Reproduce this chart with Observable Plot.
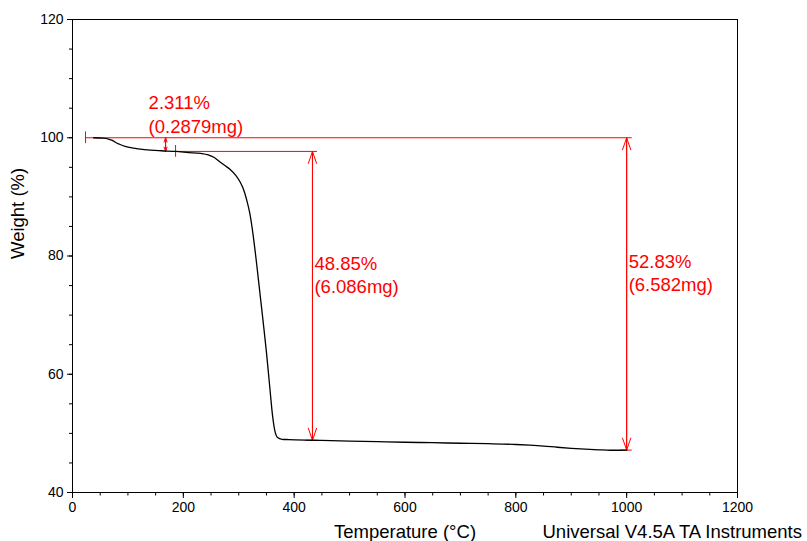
<!DOCTYPE html>
<html><head><meta charset="utf-8">
<script src="https://cdn.jsdelivr.net/npm/d3@7"></script>
<script src="https://cdn.jsdelivr.net/npm/@observablehq/plot@0.6"></script>
<style>html,body{margin:0;padding:0;background:#fff;overflow:hidden}</style>
</head><body><div id="chart"></div>
<script>
// TGA curve
const temperature = [38, 55, 65, 72, 78, 85, 95, 110, 130, 160, 186, 210, 231, 245, 255, 265, 275, 285, 295, 302, 308, 314, 320, 326, 332, 338, 344, 350, 356, 361, 365, 370, 378, 390, 433, 450, 500, 550, 600, 650, 700, 750, 800, 825, 850, 875, 900, 925, 950, 970, 985, 1000];
const weight      = [100.0, 99.93, 99.78, 99.55, 99.2, 98.9, 98.55, 98.25, 98.0, 97.8, 97.69, 97.5, 97.35, 97.1, 96.7, 96.0, 95.3, 94.6, 93.6, 92.6, 91.4, 89.6, 87.2, 83.5, 78.9, 73.9, 68.9, 63.7, 57.8, 53.0, 50.5, 49.3, 49.0, 48.95, 48.84, 48.8, 48.7, 48.6, 48.5, 48.42, 48.33, 48.25, 48.12, 48.0, 47.85, 47.65, 47.48, 47.33, 47.22, 47.15, 47.15, 47.17];

const xTicks = [0, 200, 400, 600, 800, 1000, 1200];
const yTicks = [40, 60, 80, 100, 120];

// step annotations (arrows)
const stepX      = [168, 433, 1000];
const stepTop    = [100, 97.689, 100];
const stepBottom = [97.689, 48.839, 47.170];
const stepLabels = ["2.311%\n(0.2879mg)", "48.85%\n(6.086mg)", "52.83%\n(6.582mg)"];

// horizontal reference lines
const refLevel = [100, 97.689, 48.839, 47.170];
const refStart = [23.5, 186, 421, 989];
const refEnd   = [1010, 442, 445, 1010];

const xLabel = "Temperature (°C)";
const yLabel = "Weight (%)";
const footer = "Universal V4.5A TA Instruments";

const curve = temperature.map((t, i) => ({t, w: weight[i]}));
const steps = stepX.map((x, i) => ({x, top: stepTop[i], bottom: stepBottom[i], label: stepLabels[i], mid: (stepTop[i] + stepBottom[i]) / 2}));
const refs = refLevel.map((y, i) => ({y, x1: refStart[i], x2: refEnd[i]}));
const caps = refs.slice(0, 2).map(d => ({x: d.x1, y1: d.y - 1, y2: d.y + 1}));

const RED = "#ff0000";
const FONT = "'Liberation Sans', Arial, sans-serif";
const fmt = d => String(d);

const chart = Plot.plot({
  width: 807,
  height: 541,
  marginLeft: 72,
  marginRight: 70,
  marginTop: 19,
  marginBottom: 49,
  style: {fontFamily: FONT, fontSize: "14px", color: "#000", background: "#fff"},
  x: {domain: [0, 1200]},
  y: {domain: [40, 120]},
  marks: [
    Plot.axisY({ticks: d3.range(40, 121, 5), tickSize: 3, text: null, label: null, stroke: "#000"}),
    Plot.axisY({ticks: yTicks, tickSize: 5, tickPadding: 4, tickFormat: fmt, label: null, fontSize: 14, stroke: "#000"}),
    Plot.axisX({ticks: d3.range(0, 1201, 50), tickSize: 3.5, text: null, label: null, stroke: "#000"}),
    Plot.axisX({ticks: xTicks, tickSize: 6, tickPadding: 4, tickFormat: fmt, label: null, fontSize: 14, stroke: "#000"}),
    Plot.frame({stroke: "#000", strokeWidth: 1}),
    // red annotations
    Plot.ruleY(refs, {y: "y", x1: "x1", x2: "x2", stroke: RED, strokeWidth: 1}),
    Plot.ruleX(caps, {x: "x", y1: "y1", y2: "y2", stroke: RED, strokeWidth: 1}),
    Plot.arrow(steps, {x1: "x", x2: "x", y1: "bottom", y2: "top", stroke: RED, strokeWidth: 1, headAngle: 38, headLength: 19}),
    Plot.arrow(steps, {x1: "x", x2: "x", y1: "top", y2: "bottom", stroke: RED, strokeWidth: 1, headAngle: 38, headLength: 19}),
    Plot.text(steps.slice(0, 1), {x: "x", y: "top", text: "label", textAnchor: "start", lineAnchor: "bottom", lineHeight: 1.28, dx: -17, dy: -5, fill: RED, fontSize: 18.5}),
    Plot.text(steps.slice(1), {x: "x", y: "mid", text: "label", textAnchor: "start", lineAnchor: "bottom", lineHeight: 1.25, dx: 2, dy: -3, fill: RED, fontSize: 18.5}),
    // curve
    Plot.line(curve, {x: "t", y: "w", stroke: "#000", strokeWidth: 1.3, curve: "monotone-x"}),
    // axis titles
    Plot.text([xLabel], {frameAnchor: "bottom", text: d => d, lineAnchor: "bottom", dy: 45, fontSize: 18.5, fill: "#000"}),
    Plot.text([footer], {frameAnchor: "bottom-right", text: d => d, textAnchor: "start", lineAnchor: "bottom", dx: -195, dy: 45, fontSize: 18.5, fill: "#000"}),
    Plot.text([yLabel], {frameAnchor: "left", text: d => d, rotate: -90, lineAnchor: "bottom", dx: -49, dy: 3, fontSize: 18.5, fill: "#000"})
  ]
});
document.getElementById("chart").appendChild(chart);
</script>
</body></html>
